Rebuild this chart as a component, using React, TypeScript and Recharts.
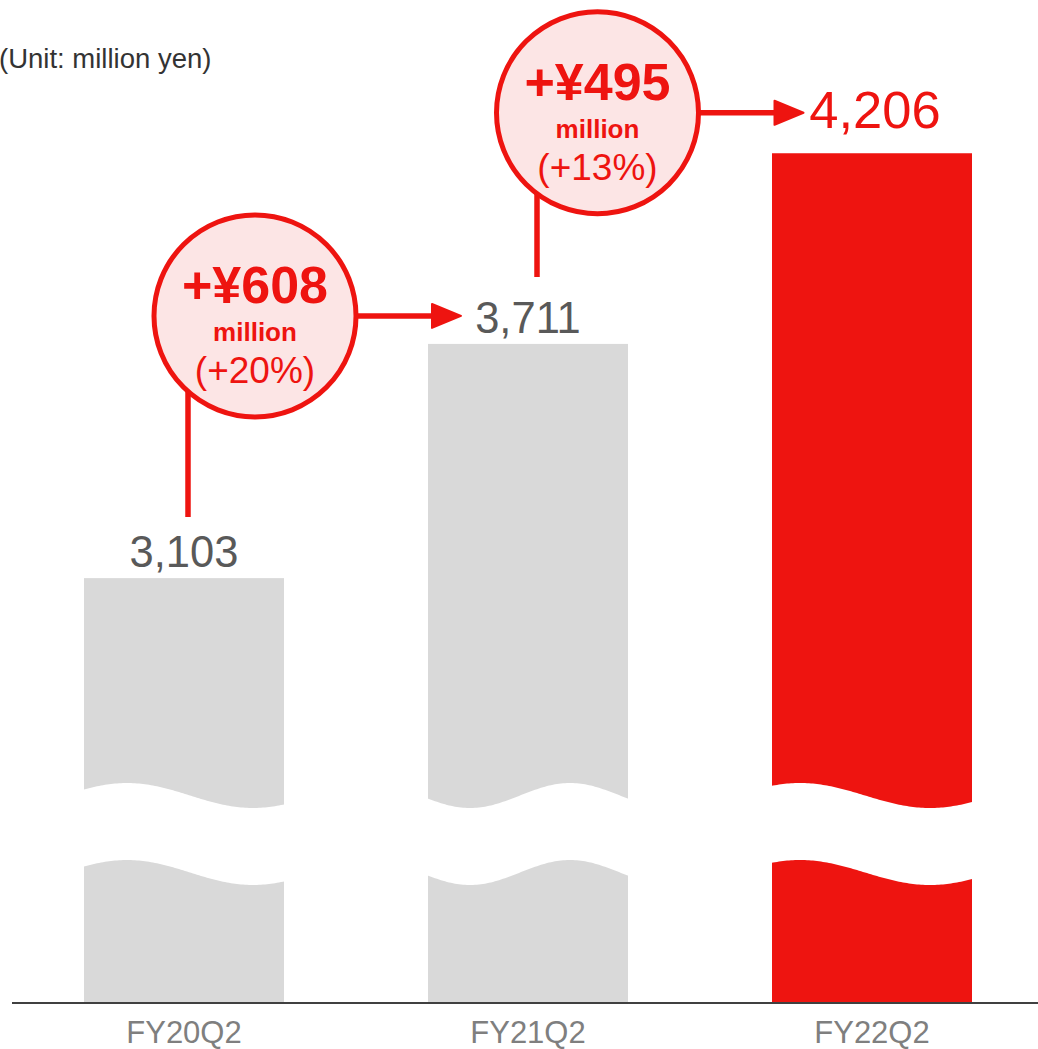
import React from 'react';
import { BarChart, Bar, XAxis, YAxis, Cell, ReferenceDot } from 'recharts';

const categories = ['FY20Q2', 'FY21Q2', 'FY22Q2'];
const values = [3103, 3711, 4206];
const deltaLabels = ['+¥608', '+¥495'];
const deltaPercents = ['(+20%)', '(+13%)'];
const deltaUnit = 'million';
const unitLabel = '(Unit: million yen)';

const data = categories.map((name, i) => ({ name, value: values[i] }));

const RED = '#ee1410';
const GRAY = '#d9d9d9';
const PINK = '#fce5e5';
const FONT = '"Liberation Sans", Arial, Helvetica, sans-serif';

// wave (axis-break) styling per bar: offset of crest from bar left, period
const WAVES = [
  { peak: 43, period: 252 },
  { peak: 142, period: 200 },
  { peak: 28, period: 260 },
];

// annotation geometry (pixel offsets from anchors)
const ANNOT = [
  { stemDx: 4, stemGap: 61, circleDx: 71, circleDy: -28 },
  { stemDx: 9, stemGap: 67, circleDx: 69.5, circleDy: -40.5 },
];

function wavePath(x: number, w: number, bottom: number, wave: { peak: number; period: number }) {
  const mid = bottom - 207.5;
  const A = 12.5;
  const gap = 77;
  const pts: [number, number][] = [];
  for (let px = x - 1; px <= x + w + 1; px += 2) {
    const yy = mid - A * Math.cos((2 * Math.PI * (px - x - wave.peak)) / wave.period);
    pts.push([px, yy]);
  }
  const top = pts.map((p, k) => `${k === 0 ? 'M' : 'L'}${p[0].toFixed(1)},${p[1].toFixed(2)}`).join(' ');
  const bot = pts
    .slice()
    .reverse()
    .map((p) => `L${p[0].toFixed(1)},${(p[1] + gap).toFixed(2)}`)
    .join(' ');
  return `${top} ${bot} Z`;
}

const BarShape = (props: any) => {
  const { x, y, width, height, fill, payload } = props;
  const i = categories.indexOf(payload?.name);
  const last = i === categories.length - 1;
  const bottom = y + height;
  return (
    <g>
      <rect x={x} y={y} width={width} height={height} fill={fill} />
      <path d={wavePath(x, width, bottom, WAVES[i] || WAVES[0])} fill="#ffffff" />
      <text
        x={x + width / 2 + (last ? 3 : 0)}
        y={y - (last ? 25 : 11)}
        textAnchor="middle"
        fontFamily={FONT}
        fontSize={last ? 52.5 : 43.5}
        fill={last ? RED : '#595959'}
      >
        {Number(payload.value).toLocaleString('en-US')}
      </text>
    </g>
  );
};

const XTick = (props: any) => {
  const { x, y, payload } = props;
  return (
    <text x={x} y={y + 32} textAnchor="middle" fontFamily={FONT} fontSize={31} fill="#7f7f7f">
      {payload.value}
    </text>
  );
};

const makeStem = (i: number) => (p: any) => {
  const a = ANNOT[i];
  const sx = p.cx + a.stemDx;
  const y1 = p.cy - a.stemGap;
  return <line x1={sx} y1={y1} x2={sx} y2={y1 - 130} stroke={RED} strokeWidth={5.5} />;
};

const makeBubble = (i: number) => (p: any) => {
  const a = ANNOT[i];
  const cx = p.cx + a.circleDx;
  const cy = p.cy + a.circleDy;
  const r = 101;
  return (
    <g>
      <line x1={cx} y1={cy} x2={cx + 180} y2={cy} stroke={RED} strokeWidth={5.5} />
      <polygon
        points={`${cx + 177},${cy - 12} ${cx + 206},${cy} ${cx + 177},${cy + 12}`}
        fill={RED}
        stroke={RED}
        strokeWidth={2}
        strokeLinejoin="round"
      />
      <circle cx={cx} cy={cy} r={r} fill={PINK} stroke={RED} strokeWidth={5} />
      <text x={cx} y={cy - 13} textAnchor="middle" fontFamily={FONT} fontWeight="bold" fontSize={52} fill={RED}>
        {deltaLabels[i]}
      </text>
      <text x={cx} y={cy + 25} textAnchor="middle" fontFamily={FONT} fontWeight="bold" fontSize={26} fill={RED}>
        {deltaUnit}
      </text>
      <text x={cx} y={cy + 67} textAnchor="middle" fontFamily={FONT} fontSize={37} fill={RED}>
        {deltaPercents[i]}
      </text>
    </g>
  );
};

export default function App() {
  return (
    <div
      style={{
        position: 'absolute',
        left: 0,
        top: 0,
        width: 1038,
        height: 1049,
        overflow: 'hidden',
        background: '#ffffff',
      }}
    >
      <BarChart
        width={1056}
        height={1049}
        data={data}
        margin={{ top: 40, right: 12, left: 12, bottom: 0 }}
        barCategoryGap={0}
      >
        <YAxis type="number" hide domain={[2000, 4500]} allowDataOverflow />
        <XAxis
          dataKey="name"
          height={46}
          interval={0}
          tickLine={false}
          tickSize={6}
          tickMargin={2}
          axisLine={{ stroke: '#404040', strokeWidth: 2 }}
          tick={<XTick />}
        />
        <Bar dataKey="value" barSize={200} isAnimationActive={false} shape={<BarShape />}>
          {data.map((d, i) => (
            <Cell key={d.name} fill={i === data.length - 1 ? RED : GRAY} />
          ))}
        </Bar>
        {ANNOT.map((_, i) => (
          <ReferenceDot
            key={`stem${i}`}
            x={categories[i]}
            y={values[i]}
            r={1}
            shape={makeStem(i)}
          />
        ))}
        {ANNOT.map((_, i) => (
          <ReferenceDot
            key={`bub${i}`}
            x={categories[i]}
            y={values[i + 1]}
            r={1}
            shape={makeBubble(i)}
          />
        ))}
      </BarChart>
      <svg width={320} height={100} style={{ position: 'absolute', left: 0, top: 0 }}>
        <text x={-1} y={68} fontFamily={FONT} fontSize={27.5} fill="#333333">
          {unitLabel}
        </text>
      </svg>
    </div>
  );
}
